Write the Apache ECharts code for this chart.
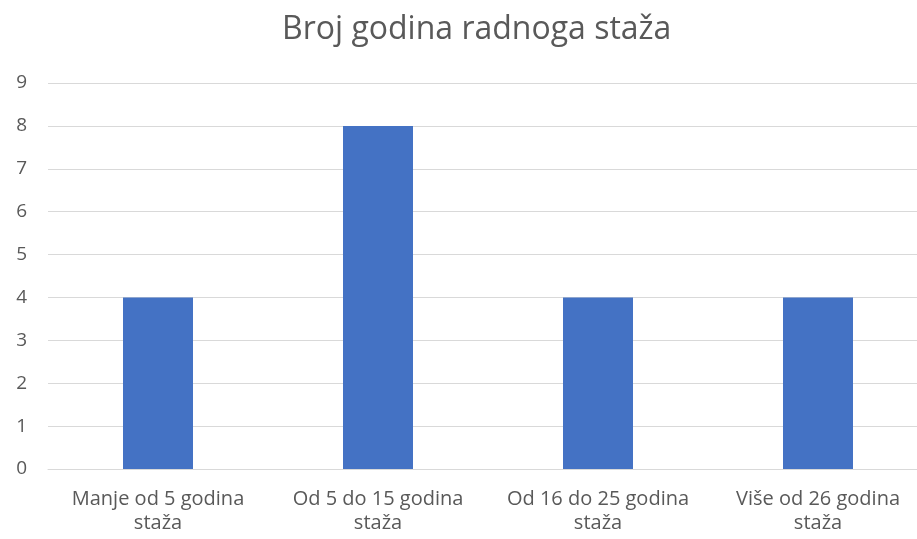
<!DOCTYPE html>
<html lang="hr">
<head>
    <meta charset="utf-8">
    <title>Broj godina radnoga staža</title>
    <script type="text/javascript" src="https://cdn.jsdelivr.net/npm/echarts@6/dist/echarts.min.js"></script>
    <style>
        html, body { margin: 0; padding: 0; background: #fff; }
        #chart { width: 917px; height: 539px; }
    </style>
</head>
<body>
<div id="chart"></div>
<script type="text/javascript">
    // podaci
    var categories = ['Manje od 5 godina\nstaža', 'Od 5 do 15 godina\nstaža', 'Od 16 do 25 godina\nstaža', 'Više od 26 godina\nstaža'];
    var values = [4, 8, 4, 4];

    var chart = echarts.init(document.getElementById('chart'));
    var option = {
        title: {
            text: 'Broj godina radnoga staža',
            left: 277,
            top: 9,
            textStyle: {
                fontFamily: 'Open Sans',
                fontSize: 32,
                fontWeight: 'normal',
                color: '#595959'
            }
        },
        grid: {
            left: 48,
            top: 83,
            width: 880,
            bottom: 70,
            outerBoundsMode: 'none'
        },
        xAxis: {
            type: 'category',
            data: categories,
            axisTick: { show: false },
            axisLine: { lineStyle: { color: '#d9d9d9', width: 1 } },
            axisLabel: {
                interval: 0,
                hideOverlap: false,
                fontFamily: 'Open Sans',
                fontSize: 20,
                lineHeight: 24,
                color: '#595959',
                margin: 18
            }
        },
        yAxis: {
            type: 'value',
            min: 0,
            max: 9,
            interval: 1,
            axisLine: { show: false },
            axisTick: { show: false },
            axisLabel: {
                fontFamily: 'Open Sans',
                fontSize: 19,
                color: '#595959',
                margin: 21
            },
            splitLine: { lineStyle: { color: '#d9d9d9', width: 1 } }
        },
        series: [{
            type: 'bar',
            data: values,
            barWidth: 70,
            itemStyle: { color: '#4472C4' }
        }]
    };
    chart.setOption(option);
</script>
</body>
</html>
